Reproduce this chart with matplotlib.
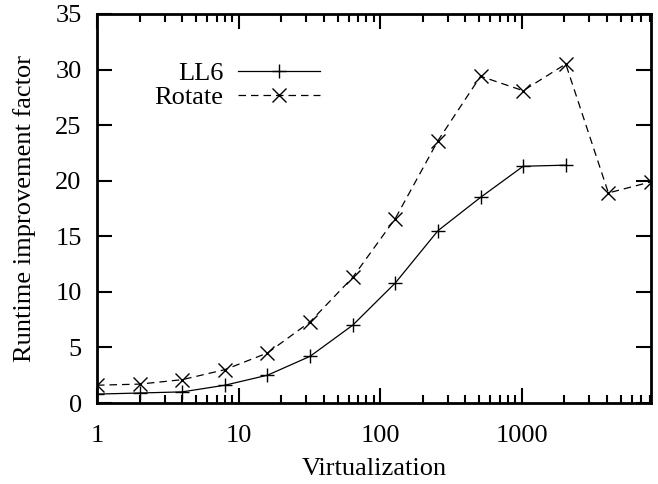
import matplotlib
matplotlib.use("Agg")
import matplotlib.pyplot as plt
from matplotlib.ticker import LogLocator, NullFormatter

plt.rcParams["font.family"] = ["Liberation Serif", "DejaVu Serif"]

virt = [1, 2, 4, 8, 16, 32, 64, 128, 256, 512, 1024, 2048, 4096, 8192]
ll6 = [0.8, 0.9, 1.0, 1.6, 2.5, 4.2, 7.0, 10.8, 15.5, 18.5, 21.3, 21.4]
rotate = [1.6, 1.7, 2.1, 3.0, 4.5, 7.3, 11.3, 16.6, 23.6, 29.4, 28.1, 30.5, 18.9, 19.9]

FS = 19

fig = plt.figure(figsize=(6.58, 4.84), dpi=100)
ax = fig.add_axes([97 / 658, 1 - 403 / 484, (651 - 97) / 658, (403 - 14) / 484])

ax.plot(virt[:len(ll6)], ll6, color="black", linewidth=0.9, marker="+",
        markersize=10, markeredgewidth=1.0, label="LL6")
ax.plot(virt, rotate, color="black", linewidth=0.9, linestyle=(0, (6, 4)),
        marker="x", markersize=10, markeredgewidth=1.0, label="Rotate")

ax.set_xscale("log")
ax.set_xlim(1, 8192)
ax.set_ylim(0, 35)
ax.set_xticks([1, 10, 100, 1000])
ax.set_xticklabels(["1", "10", "100", "1000"])
ax.xaxis.set_minor_locator(LogLocator(base=10, subs=range(2, 10), numticks=20))
ax.xaxis.set_minor_formatter(NullFormatter())
ax.set_yticks(range(0, 36, 5))

ax.tick_params(which="both", direction="in", top=True, right=True,
               labelsize=FS, width=1.5)
ax.tick_params(axis="x", pad=15.5)
ax.tick_params(axis="y", pad=11)
ax.tick_params(which="major", length=11)
ax.tick_params(which="minor", length=6)
for spine in ax.spines.values():
    spine.set_linewidth(2)

ax.set_xlabel("Virtualization", fontsize=FS, labelpad=8)
ax.set_ylabel("Runtime improvement factor", fontsize=FS, labelpad=14)

ax.legend(loc="upper right", bbox_to_anchor=(0.4025, 0.877), frameon=False,
          markerfirst=False, fontsize=FS, handlelength=3.1,
          handletextpad=0.57, labelspacing=0.02, borderpad=0, borderaxespad=0)

fig.savefig("out.png", dpi=100)
